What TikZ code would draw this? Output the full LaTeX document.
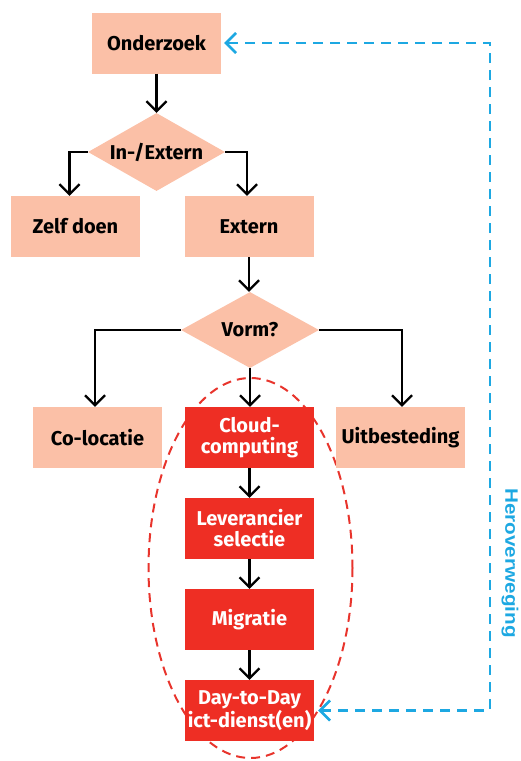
\documentclass[tikz,border=0pt]{standalone}
\usepackage{fontspec}
\setmainfont{Fira Sans}
\newfontfamily\herofont{Liberation Sans}
\usetikzlibrary{shapes.geometric,arrows.meta}
\definecolor{salmon}{HTML}{FBC0A7}
\definecolor{cloudred}{HTML}{EE2E24}
\definecolor{heroblue}{HTML}{1DA8E2}
\definecolor{ellred}{HTML}{E8342C}
\tikzset{
  box/.style={rectangle, fill=salmon, minimum width=129, minimum height=61, inner sep=0,
    font=\fontsize{20}{21}\selectfont\bfseries, text=black, align=center},
  redbox/.style={box, fill=cloudred, text=white},
  choice/.style={diamond, fill=salmon, aspect=1.76, minimum width=137, minimum height=78, inner sep=0,
    font=\fontsize{20}{21}\selectfont\bfseries, text=black},
  conn/.style={draw=black, line width=2.2, -{Straight Barb[length=10,width=20,line width=2.2]}},
  back/.style={draw=heroblue, line width=2.6, dash pattern=on 10 off 7,
    {Straight Barb[length=10,width=20,line width=2.6]}-{Straight Barb[length=10,width=20,line width=2.6]}},
}
\begin{document}
\begin{tikzpicture}[x=1pt,y=-1pt]
\useasboundingbox (0,0) rectangle (520,761);
% ellipse behind
\draw[ellred, line width=2, dash pattern=on 9 off 6] (250.5,568) ellipse [x radius=102, y radius=190];
\node[box] (onder) at (156.5,43) {Onderzoek};
\node[choice] (inex) at (156.5,152) {In-/Extern};
\node[box] (zelf) at (75.5,226.5) {Zelf doen};
\node[box] (extern) at (249,226.5) {Extern};
\node[choice, minimum width=138, minimum height=76] (vorm) at (250,330) {Vorm?};
\node[box] (coloc) at (97.5,437.5) {Co-locatie};
\node[redbox] (cloud) at (249.5,437.5) {Cloud-\\computing};
\node[box] (uitb) at (400.5,437.5) {Uitbesteding};
\node[redbox] (lever) at (249.5,528.5) {Leverancier\\selectie};
\node[redbox] (migr) at (249.5,619.5) {Migratie};
\node[redbox] (day) at (249.5,710.5) {Day-to-Day\\ict-dienst(en)};
% connectors
\draw[conn] (onder.south) -- (inex.north);
\draw[conn] (inex.west) -| ([xshift=-6]zelf.north);
\draw[conn] (inex.east) -| ([xshift=-2]extern.north);
\draw[conn] (extern.south) -- (extern.south |- vorm.north);
\draw[conn] (vorm.west) -| ([xshift=-2.5]coloc.north);
\draw[conn] (vorm.east) -| ([xshift=1.5]uitb.north);
\draw[conn] (vorm.south) -- (vorm.south |- cloud.north);
\draw[conn] (cloud) -- (lever);
\draw[conn] (lever) -- (migr);
\draw[conn] (migr) -- (day);
% feedback
\coordinate (rx) at (490,0);
\draw[back] ([xshift=4]day.east) -- (day.east -| rx) -- (onder.east -| rx) -- ([xshift=3]onder.east);
\node[rotate=-90, text=heroblue, font=\herofont\fontsize{18}{20}\selectfont\bfseries, inner sep=0] (hero) at (510,563) {\scalebox{1.15}[1]{Heroverweging}};
\end{tikzpicture}
\end{document}
